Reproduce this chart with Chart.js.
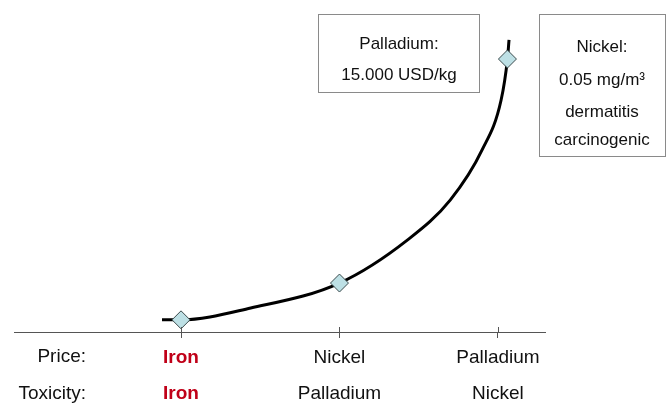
<!DOCTYPE html>
<html>
<head>
<meta charset="utf-8">
<script src="https://cdn.jsdelivr.net/npm/chart.js@4/dist/chart.umd.min.js"></script>
<style>
  html, body { margin: 0; padding: 0; background: #fff; }
  #wrap { width: 667px; height: 405px; position: relative; }
</style>
</head>
<body>
<div id="wrap"><canvas id="grafico"></canvas></div>
<script>
// ranks on the x axis (1 = cheapest / least toxic)
var rankValues = [1, 2, 3];
var priceLabels = ["Iron", "Nickel", "Palladium"];
var toxicityLabels = ["Iron", "Palladium", "Nickel"];

// curve (x in rank units, y in relative units 0-100)
var curveX = [0.88, 1.00, 1.44, 2.00, 2.43, 2.70, 2.90, 3.02, 3.06, 3.07];
var curveY = [3.8, 3.8, 7.5, 15.3, 28.8, 41.3, 56.9, 72.5, 85.3, 91.3];

// the three metals
var markerX = [1.00, 2.00, 3.06];
var markerY = [3.8, 15.3, 85.3];

var rowHeaders = ["Price:", "Toxicity:"];
var boxPalladium = ["Palladium:", "15.000 USD/kg"];
var boxNickel = ["Nickel:", "0.05 mg/m\u00b3", "dermatitis", "carcinogenic"];

var fonte = "'Liberation Sans', Arial, sans-serif";
var vermelho = "#c00018";

var caixas = {
  id: "caixas",
  afterDraw: function(chart) {
    var ctx = chart.ctx;
    var xs = chart.scales.x;
    ctx.save();
    // small ticks above the axis
    ctx.strokeStyle = "#555";
    ctx.lineWidth = 1;
    rankValues.forEach(function(v) {
      var px = Math.round(xs.getPixelForValue(v)) + 0.5;
      ctx.beginPath();
      ctx.moveTo(px, xs.top - 5);
      ctx.lineTo(px, xs.top);
      ctx.stroke();
    });
    // row headers
    ctx.fillStyle = "#111";
    ctx.font = "19px " + fonte;
    ctx.textAlign = "right";
    ctx.textBaseline = "middle";
    ctx.fillText(rowHeaders[0], 86, 357);
    ctx.fillText(rowHeaders[1], 86, 394);
    // text boxes
    ctx.strokeStyle = "#8a8a8a";
    ctx.strokeRect(318.5, 14.5, 161, 78);
    ctx.strokeRect(539.5, 14.5, 126, 142);
    ctx.font = "17px " + fonte;
    ctx.textAlign = "center";
    ctx.fillText(boxPalladium[0], 399, 44);
    ctx.fillText(boxPalladium[1], 399, 75);
    var ny = [47, 80, 112, 140];
    boxNickel.forEach(function(t, i) { ctx.fillText(t, 602, ny[i]); });
    ctx.restore();
  }
};

new Chart(document.getElementById("grafico"), {
  type: "line",
  data: {
    datasets: [{
      label: "Metals",
      data: markerX.map(function(x, i) { return { x: x, y: markerY[i] }; }),
      showLine: false,
      pointStyle: "rectRot",
      pointRadius: 9,
      pointHoverRadius: 9,
      pointBackgroundColor: "#bde0e5",
      pointBorderColor: "#3a4a4c",
      pointBorderWidth: 1,
      clip: false,
      order: 0
    }, {
      label: "Curve",
      data: curveX.map(function(x, i) { return { x: x, y: curveY[i] }; }),
      borderColor: "#000",
      borderWidth: 3,
      pointRadius: 0,
      cubicInterpolationMode: "monotone",
      fill: false,
      clip: false,
      order: 1
    }]
  },
  options: {
    responsive: true,
    maintainAspectRatio: false,
    animation: false,
    events: [],
    layout: { padding: { left: 14, right: 122, top: 12, bottom: 0 } },
    plugins: {
      legend: { display: false },
      title: { display: false },
      tooltip: { enabled: false }
    },
    scales: {
      x: {
        type: "linear",
        min: -0.054,
        max: 3.297,
        afterBuildTicks: function(scale) {
          scale.ticks = rankValues.map(function(v) { return { value: v }; });
        },
        afterFit: function(scale) { scale.height = 73; },
        border: { display: true, color: "#555", width: 1 },
        grid: { display: true, drawOnChartArea: false, drawTicks: true, tickLength: 6, color: "#555" },
        ticks: {
          autoSkip: false,
          maxRotation: 0,
          padding: 2,
          callback: function(value) {
            var i = rankValues.indexOf(value);
            return i < 0 ? "" : [priceLabels[i], toxicityLabels[i]];
          },
          color: function(c) { return c.tick && c.tick.value === 1 ? vermelho : "#111"; },
          font: function(c) {
            return {
              family: fonte,
              size: 19,
              weight: c.tick && c.tick.value === 1 ? "bold" : "normal",
              lineHeight: 36 / 19
            };
          }
        }
      },
      y: {
        display: false,
        min: 0,
        max: 100
      }
    }
  },
  plugins: [caixas]
});
</script>
</body>
</html>
